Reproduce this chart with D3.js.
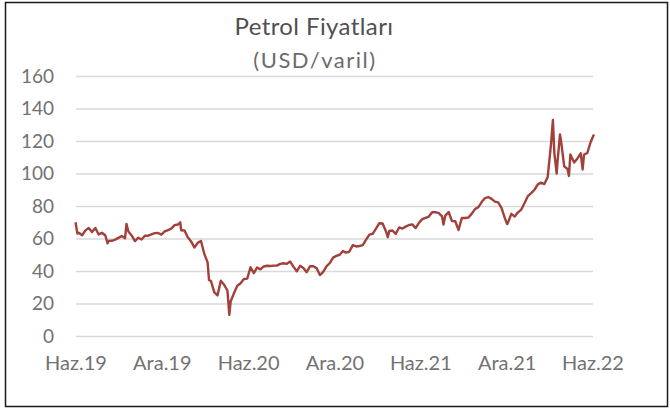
<!DOCTYPE html>
<html>
<head>
<meta charset="utf-8">
<script src="https://cdn.jsdelivr.net/npm/d3@7"></script>
<style>
  body { margin: 0; background: #fff; }
  svg { display: block; font-family: Lato, "Open Sans", sans-serif; }
</style>
</head>
<body>
<svg id="chart" width="670" height="410"></svg>
<script>
// Brent petrol fiyatı, haftalık (USD/varil)
var dates = [
  "2019-05-31","2019-06-04","2019-06-07","2019-06-14","2019-06-21","2019-06-28",
  "2019-07-05","2019-07-12","2019-07-19","2019-07-26","2019-08-02","2019-08-07",
  "2019-08-09","2019-08-16","2019-08-23","2019-08-30","2019-09-06","2019-09-13",
  "2019-09-16","2019-09-20","2019-09-27","2019-10-04","2019-10-11","2019-10-18",
  "2019-10-25","2019-11-01","2019-11-08","2019-11-15","2019-11-22","2019-11-29",
  "2019-12-06","2019-12-13","2019-12-20","2019-12-27","2020-01-03","2020-01-08",
  "2020-01-10","2020-01-17","2020-01-24","2020-01-31","2020-02-07","2020-02-14",
  "2020-02-21","2020-02-28","2020-03-06","2020-03-09","2020-03-13","2020-03-20",
  "2020-03-27","2020-04-03","2020-04-10","2020-04-17","2020-04-21","2020-04-24",
  "2020-05-01","2020-05-08","2020-05-15","2020-05-22","2020-05-29","2020-06-05",
  "2020-06-12","2020-06-19","2020-06-26","2020-07-03","2020-07-10","2020-07-17",
  "2020-07-24","2020-07-31","2020-08-07","2020-08-14","2020-08-21","2020-08-28",
  "2020-09-04","2020-09-11","2020-09-18","2020-09-25","2020-10-02","2020-10-09",
  "2020-10-16","2020-10-23","2020-10-30","2020-11-06","2020-11-13","2020-11-20",
  "2020-11-27","2020-12-04","2020-12-11","2020-12-18","2020-12-24","2020-12-31",
  "2021-01-08","2021-01-15","2021-01-22","2021-01-29","2021-02-05","2021-02-12",
  "2021-02-19","2021-02-26","2021-03-05","2021-03-12","2021-03-19","2021-03-23",
  "2021-03-26","2021-04-02","2021-04-09","2021-04-16","2021-04-23","2021-04-30",
  "2021-05-07","2021-05-14","2021-05-21","2021-05-28","2021-06-04","2021-06-11",
  "2021-06-18","2021-06-25","2021-07-02","2021-07-09","2021-07-16","2021-07-19",
  "2021-07-23","2021-07-30","2021-08-06","2021-08-13","2021-08-20","2021-08-27",
  "2021-09-03","2021-09-10","2021-09-17","2021-09-24","2021-10-01","2021-10-08",
  "2021-10-15","2021-10-22","2021-10-29","2021-11-05","2021-11-12","2021-11-19",
  "2021-11-26","2021-12-01","2021-12-03","2021-12-10","2021-12-17","2021-12-24",
  "2021-12-31","2022-01-07","2022-01-14","2022-01-21","2022-01-28","2022-02-04",
  "2022-02-11","2022-02-18","2022-02-25","2022-03-04","2022-03-08","2022-03-11",
  "2022-03-16","2022-03-18","2022-03-23","2022-03-25","2022-04-01","2022-04-08",
  "2022-04-11","2022-04-14","2022-04-22","2022-04-29","2022-05-06","2022-05-10",
  "2022-05-13","2022-05-20","2022-05-27","2022-06-03"
];
var prices = [
  70, 63, 63.5, 62, 65, 66.5,
  64, 66.5, 62.5, 63.5, 62, 57,
  58.5, 58.6, 59.3, 60.4, 61.5, 60.2,
  69, 64.3, 61.9, 58.4, 60.5, 59.4,
  61.7, 61.7, 62.5, 63.3, 63.4, 62.4,
  64.4, 65.2, 66.1, 68.2, 68.6, 70,
  65, 64.9, 60.7, 58.2, 54.5, 57.3,
  58.5, 50.5, 45.3, 34.4, 33.9, 27,
  25, 34, 31.5, 28, 13, 21.4,
  26.4, 30.9, 32.5, 35.1, 35.3, 42.3,
  38.7, 42.2, 41, 42.8, 43.2, 43.1,
  43.3, 43.3, 44.4, 44.8, 44.4, 45.8,
  42.7, 39.8, 43.2, 41.9, 39.3, 42.9,
  42.9, 41.8, 37.5, 39.5, 42.8, 44.9,
  48.2, 49.3, 50, 52.3, 51.3, 51.8,
  55.9, 55.1, 55.4, 55.9, 59.3, 62.4,
  62.9, 66.1, 69.4, 69.2, 64.5, 60.8,
  64.6, 64.9, 62.9, 66.8, 66.1, 67.3,
  68.3, 68.7, 66.4, 69.6, 71.9, 72.7,
  73.5, 76.2, 76.2, 75.6, 73.6, 68.6,
  74.1, 76.3, 70.7, 70.6, 65.2, 72.7,
  72.6, 72.9, 75.3, 78.1, 79.3, 82.4,
  84.9, 85.5, 84.4, 82.7, 82.2, 78.9,
  72.7, 68.9, 69.9, 75.2, 73.5, 76.1,
  77.8, 81.8, 86.1, 87.9, 90, 93.3,
  94.4, 93.5, 97.9, 118.1, 133, 112.7,
  100, 107.9, 124, 120.7, 104.4, 102.8,
  98.5, 111.7, 106.7, 109.3, 112.4, 102.5,
  111.6, 112.6, 119.4, 124
];
var tickDates = ["2019-06-01","2019-12-01","2020-06-01","2020-12-01","2021-06-01","2021-12-01","2022-06-01"];
var tickLabels = ["Haz.19","Ara.19","Haz.20","Ara.20","Haz.21","Ara.21","Haz.22"];
var yTicks = [0, 20, 40, 60, 80, 100, 120, 140, 160];

(function(){
    var parse = d3.timeParse("%Y-%m-%d");
    var data = dates.map(function(d, i){ return {date: parse(d), value: prices[i]}; });

    var svg = d3.select("#chart");
    var pLeft = 76, pRight = 593, pTop = 76, pBottom = 336;

    // çerçeve
    svg.append("rect")
        .attr("x", 5.5).attr("y", 2.5)
        .attr("width", 662).attr("height", 404)
        .attr("fill", "#fff")
        .attr("stroke", "#1a1a1a")
        .attr("stroke-width", 1.5);

    var x = d3.scaleTime()
        .domain([parse(tickDates[0]), parse(tickDates[tickDates.length-1])])
        .range([pLeft, pRight]);
    var y = d3.scaleLinear().domain([0, 160]).range([pBottom, pTop]);

    // yatay kılavuz çizgileri
    svg.append("g")
        .attr("transform", "translate(" + pLeft + ",0)")
        .call(d3.axisLeft(y).tickValues(yTicks).tickSize(-(pRight - pLeft)).tickFormat(""))
        .call(function(g){
            g.select(".domain").remove();
            g.selectAll("line").attr("stroke", "#d9d9d9").attr("stroke-width", 1.3);
        });

    // y etiketleri
    svg.append("g")
        .selectAll("text")
        .data(yTicks)
        .enter()
        .append("text")
        .attr("x", 54)
        .attr("y", function(d){ return y(d); })
        .attr("dy", "0.35em")
        .attr("text-anchor", "end")
        .attr("font-size", 19)
        .attr("fill", "#727272")
        .text(function(d){ return d; });

    // x etiketleri
    svg.append("g")
        .selectAll("text")
        .data(tickDates)
        .enter()
        .append("text")
        .attr("x", function(d){ return x(parse(d)); })
        .attr("y", 370)
        .attr("text-anchor", "middle")
        .attr("font-size", 20)
        .attr("fill", "#727272")
        .text(function(d, i){ return tickLabels[i]; });

    // fiyat çizgisi
    var line = d3.line()
        .x(function(d){ return x(d.date); })
        .y(function(d){ return y(d.value); });

    svg.append("path")
        .datum(data)
        .attr("d", line)
        .attr("fill", "none")
        .attr("stroke", "#a2403b")
        .attr("stroke-width", 2.4)
        .attr("stroke-linejoin", "round");

    // başlık
    svg.append("text")
        .attr("x", 314).attr("y", 35)
        .attr("text-anchor", "middle")
        .attr("font-size", 24)
        .attr("letter-spacing", 0.4)
        .attr("fill", "#505050")
        .text("Petrol Fiyatları");
    svg.append("text")
        .attr("x", 315).attr("y", 68)
        .attr("text-anchor", "middle")
        .attr("font-size", 22)
        .attr("letter-spacing", 1.5)
        .attr("fill", "#6b6b6b")
        .text("(USD/varil)");
})();
</script>
</body>
</html>
